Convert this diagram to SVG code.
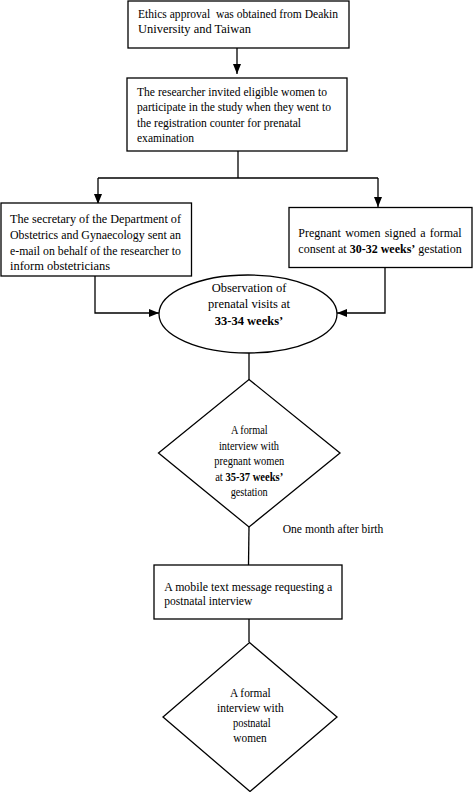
<svg xmlns="http://www.w3.org/2000/svg" width="473" height="792" viewBox="0 0 473 792">
<style>
.shape{fill:#fff;stroke:#000;stroke-width:1.3}
.t{font-family:"Liberation Serif","Times New Roman",serif;font-size:12.8px;fill:#000}
.m{font-family:"Liberation Serif","Times New Roman",serif;font-size:12.5px;fill:#000;text-anchor:middle}
.d{font-family:"Liberation Serif","Times New Roman",serif;font-size:11.5px;fill:#000;text-anchor:middle}
.e{font-family:"Liberation Serif","Times New Roman",serif;font-size:12.3px;fill:#000;text-anchor:middle}
.b{font-weight:bold}
.ln{fill:none;stroke:#000;stroke-width:1.3}
</style>
<defs>
<marker id="ah" markerUnits="userSpaceOnUse" markerWidth="10" markerHeight="10" viewBox="0 0 10 10" refX="10" refY="5" orient="auto">
<path d="M0,1 L10,5 L0,9 Z" fill="#000"/>
</marker>
</defs>
<rect width="473" height="792" fill="#fff"/>
<g id="connectors">
<line class="ln" x1="237" y1="48" x2="237" y2="74" marker-end="url(#ah)"/>
<polyline class="ln" points="238,151 238,178"/>
<polyline class="ln" points="98,178 378,178"/>
<line class="ln" x1="98" y1="178" x2="98" y2="204" marker-end="url(#ah)"/>
<line class="ln" x1="378" y1="178" x2="378" y2="207" marker-end="url(#ah)"/>
<polyline class="ln" points="95,276 95,313 159,313" marker-end="url(#ah)"/>
<polyline class="ln" points="385,267 385,313 337,313" marker-end="url(#ah)"/>
<line class="ln" x1="249" y1="353" x2="249" y2="380"/>
<line class="ln" x1="249" y1="527" x2="248.5" y2="565"/>
<line class="ln" x1="249" y1="619" x2="249" y2="642"/>
</g>
<g id="n1">
<rect class="shape" x="128" y="1" width="221" height="47"/>
<text class="t" x="138" y="18" textLength="200" lengthAdjust="spacingAndGlyphs" xml:space="preserve">Ethics approval  was obtained from Deakin</text>
<text class="t" x="138" y="33" textLength="113" lengthAdjust="spacingAndGlyphs">University and Taiwan</text>
</g>
<g id="n2">
<rect class="shape" x="127" y="78" width="220" height="73"/>
<text class="t" x="137" y="96" textLength="190" lengthAdjust="spacingAndGlyphs">The researcher invited eligible women to</text>
<text class="t" x="137" y="111" textLength="194" lengthAdjust="spacingAndGlyphs">participate in the study when they went to</text>
<text class="t" x="137" y="127" textLength="164" lengthAdjust="spacingAndGlyphs">the registration counter for prenatal</text>
<text class="t" x="137" y="142" textLength="57" lengthAdjust="spacingAndGlyphs">examination</text>
</g>
<g id="n3">
<rect class="shape" x="1" y="203" width="190.5" height="73"/>
<text class="t" x="10" y="223" textLength="171" lengthAdjust="spacingAndGlyphs">The secretary of the Department of</text>
<text class="t" x="10" y="239" textLength="171" lengthAdjust="spacingAndGlyphs">Obstetrics and Gynaecology sent an</text>
<text class="t" x="10" y="255" textLength="171" lengthAdjust="spacingAndGlyphs">e-mail on behalf of the researcher to</text>
<text class="t" x="10" y="270" textLength="100" lengthAdjust="spacingAndGlyphs">inform obstetricians</text>
</g>
<g id="n4">
<rect class="shape" x="289" y="207.5" width="183" height="60"/>
<text class="t" x="298.3" y="237" style="font-size:12.3px;word-spacing:1.3px" textLength="163.4" lengthAdjust="spacingAndGlyphs">Pregnant women signed a formal</text>
<text class="t" x="298.3" y="253" textLength="163.4" lengthAdjust="spacingAndGlyphs">consent at <tspan class="b">30-32 weeks’</tspan> gestation</text>
</g>
<g id="n5">
<ellipse class="shape" cx="248" cy="314" rx="89" ry="39"/>
<text class="m" x="249" y="292">Observation of</text>
<text class="m" x="249" y="308">prenatal visits at</text>
<text class="m b" x="249" y="325">33-34 weeks’</text>
</g>
<g id="n6">
<polygon class="shape" points="249,379.5 340,453 249,527 158.5,453"/>
<text class="d" x="249.3" y="434" textLength="36.7" lengthAdjust="spacingAndGlyphs">A formal</text>
<text class="d" x="249" y="450" textLength="60" lengthAdjust="spacingAndGlyphs">interview with</text>
<text class="d" x="249.3" y="465" textLength="70" lengthAdjust="spacingAndGlyphs">pregnant women</text>
<text class="d" x="249.2" y="481" textLength="68" lengthAdjust="spacingAndGlyphs">at <tspan class="b">35-37 weeks’</tspan></text>
<text class="d" x="249.2" y="496" textLength="37" lengthAdjust="spacingAndGlyphs">gestation</text>
</g>
<text class="t" x="282.7" y="533" textLength="100.7" lengthAdjust="spacingAndGlyphs">One month after birth</text>
<g id="n7">
<rect class="shape" x="154" y="565" width="188" height="54"/>
<text class="t" x="164.3" y="591" textLength="168" lengthAdjust="spacingAndGlyphs">A mobile text message requesting a</text>
<text class="t" x="164.3" y="605" textLength="88" lengthAdjust="spacingAndGlyphs">postnatal interview</text>
</g>
<g id="n8">
<polygon class="shape" points="249.5,642.5 337,717 250,791.5 163,717"/>
<text class="e" x="250.3" y="697" textLength="40.7" lengthAdjust="spacingAndGlyphs">A formal</text>
<text class="e" x="250.3" y="712" textLength="66.7" lengthAdjust="spacingAndGlyphs">interview with</text>
<text class="e" x="251.8" y="727" textLength="37.7" lengthAdjust="spacingAndGlyphs">postnatal</text>
<text class="e" x="250" y="742" textLength="33.3" lengthAdjust="spacingAndGlyphs">women</text>
</g>
</svg>
